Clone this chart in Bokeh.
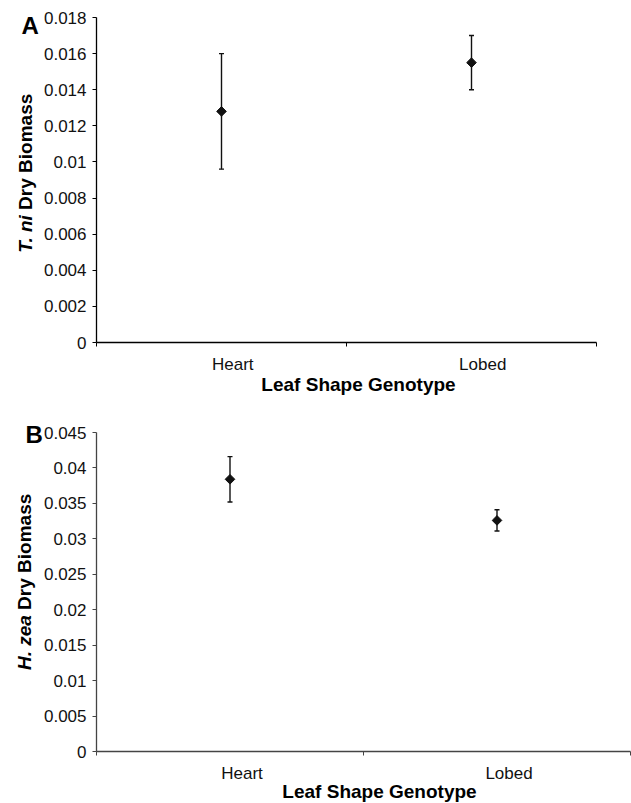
import numpy as np
from bokeh.plotting import figure
from bokeh.layouts import column
from bokeh.models import Range1d, FixedTicker, CustomJSTickFormatter, Whisker, ColumnDataSource
from bokeh.core.properties import value
from bokeh.embed import file_html
from bokeh.resources import INLINE

categories = ["Heart", "Lobed"]
tni_mean = [0.0128, 0.0155]
tni_err = [0.0032, 0.0015]
hzea_mean = [0.0384, 0.0326]
hzea_err = [0.0032, 0.0015]
tni_ticks = [0, 0.002, 0.004, 0.006, 0.008, 0.010, 0.012, 0.014, 0.016, 0.018]
hzea_ticks = [0, 0.005, 0.010, 0.015, 0.020, 0.025, 0.030, 0.035, 0.040, 0.045]
panel_letters = ["A", "B"]
species_names = ["T. ni", "H. zea"]
y_title_rest = "Dry Biomass"
x_title = "Leaf Shape Genotype"

FONT = "Liberation Sans"
W, H = 631, 803
LABEL_SHIFT = 0.045  # category labels sit slightly right of the category centre (as in the original)


def panel(means, errs, yticks, width, height, borders, axis_color):
    bl, br, bt, bb = borders
    n = len(categories)
    p = figure(width=width, height=height, output_backend="svg", toolbar_location=None,
               x_range=Range1d(0, n), y_range=Range1d(yticks[0], yticks[-1]),
               min_border_left=bl, min_border_right=br, min_border_top=bt, min_border_bottom=bb)
    p.outline_line_color = None
    p.xgrid.grid_line_color = None
    p.ygrid.grid_line_color = None

    xs = [i + 0.5 for i in range(n)]
    src = ColumnDataSource(dict(x=xs, y=means,
                                upper=[m + e for m, e in zip(means, errs)],
                                lower=[m - e for m, e in zip(means, errs)]))
    w = Whisker(base="x", upper="upper", lower="lower", source=src,
                line_color="#111111", line_width=1.4)
    for h in (w.upper_head, w.lower_head):
        h.size = 5
        h.line_color = "#111111"
        h.line_width = 1.4
    p.add_layout(w)
    p.scatter("x", "y", source=src, marker="square", size=6.8, angle=np.pi / 4,
              fill_color="#111111", line_color="#111111")

    xa = p.xaxis[0]
    label_pos = [x + LABEL_SHIFT for x in xs]
    xa.ticker = FixedTicker(ticks=label_pos, minor_ticks=list(range(n + 1)))
    xa.major_label_overrides = {x: c for x, c in zip(label_pos, categories)}
    xa.major_tick_out = 0
    xa.major_tick_in = 0
    xa.minor_tick_out = 4
    xa.minor_tick_in = 0
    xa.minor_tick_line_color = axis_color
    xa.axis_line_color = axis_color
    xa.axis_line_width = 1.3
    xa.major_label_standoff = 8
    xa.major_label_text_font = FONT
    xa.major_label_text_font_size = "17px"
    xa.major_label_text_color = "#111111"

    ya = p.yaxis[0]
    ya.ticker = FixedTicker(ticks=yticks)
    ya.formatter = CustomJSTickFormatter(code="""
        let s = tick.toFixed(3);
        s = s.replace(/0+$/, '').replace(/\\.$/, '');
        return s;
    """)
    ya.minor_tick_line_color = None
    ya.major_tick_out = 4
    ya.major_tick_in = 0
    ya.major_tick_line_color = axis_color
    ya.axis_line_color = axis_color
    ya.axis_line_width = 1.3
    ya.major_label_standoff = 6
    ya.major_label_text_font = FONT
    ya.major_label_text_font_size = "17px"
    ya.major_label_text_color = "#111111"
    return p


pa = panel(tni_mean, tni_err, tni_ticks, 597, 400, (96, 1, 17, 58), "#000000")
pb = panel(hzea_mean, hzea_err, hzea_ticks, 631, 403, (96, 1, 32, 52), "#444444")
layout = column(pa, pb, spacing=0)

# transparent overlay (page-pixel space) carrying the titles and panel letters
ov = figure(width=W, height=H, output_backend="svg", toolbar_location=None,
            x_range=Range1d(0, W), y_range=Range1d(H, 0),
            x_axis_type=None, y_axis_type=None, min_border=0,
            styles={"position": "absolute", "left": "0px", "top": "0px", "pointer-events": "none"})
ov.outline_line_color = None
ov.background_fill_alpha = 0
ov.border_fill_alpha = 0
ov.xgrid.visible = False
ov.ygrid.visible = False

# page-pixel anchors of the annotation texts (layout, not data)
letter_xy = [(21, 25), (25, 434)]
ytitle_x = [25, 24]
ytitle_split = [212, 612]
xtitle_xy = [(358, 384), (379, 791)]

ov.text(x=[p[0] for p in letter_xy], y=[p[1] for p in letter_xy], text=panel_letters,
        text_font=value(FONT), text_font_size="24px", text_font_style="bold",
        text_color="#000000", text_align="left", text_baseline="alphabetic")
ov.text(x=ytitle_x, y=[s + 2.6 for s in ytitle_split], text=species_names, angle=np.pi / 2,
        text_font=value(FONT), text_font_size="19px", text_font_style="bold italic",
        text_color="#000000", text_align="right", text_baseline="middle")
ov.text(x=ytitle_x, y=[s - 2.6 for s in ytitle_split], text=[y_title_rest] * 2, angle=np.pi / 2,
        text_font=value(FONT), text_font_size="19px", text_font_style="bold",
        text_color="#000000", text_align="left", text_baseline="middle")
ov.text(x=[p[0] for p in xtitle_xy], y=[p[1] for p in xtitle_xy], text=[x_title] * 2,
        text_font=value(FONT), text_font_size="19px", text_font_style="bold",
        text_color="#000000", text_align="center", text_baseline="alphabetic")

open("out.html", "w").write(file_html([layout, ov], INLINE))
